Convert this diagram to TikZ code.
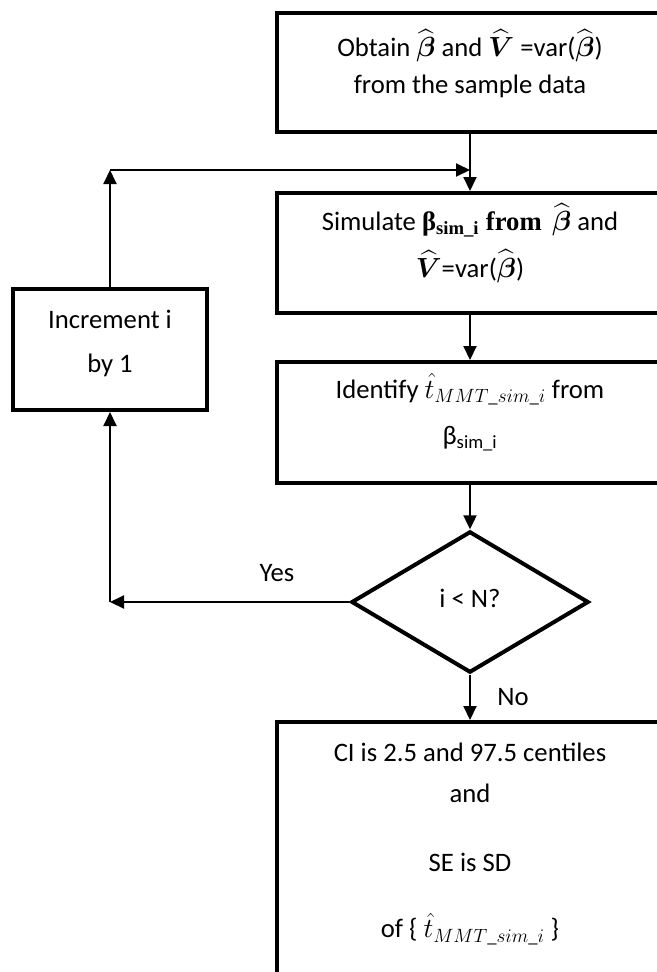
\documentclass[tikz,border=0pt]{standalone}
\usepackage{amsmath}
\usepackage{fontspec}
\setmainfont{Carlito}
\newfontfamily\tnr{Liberation Serif}
\usetikzlibrary{shapes.geometric,arrows.meta}
\begin{document}
\begin{tikzpicture}[x=0.75pt,y=-0.75pt,
  txt/.style={font=\fontsize{20}{24}\selectfont},
  box/.style={draw,line width=3pt,rectangle,minimum width=289.5pt,inner sep=0pt},
  smallbox/.style={draw,line width=3pt,rectangle,minimum width=145.5pt,minimum height=90.75pt,inner sep=0pt},
  decision/.style={draw,line width=3pt,diamond,minimum width=178pt,minimum height=106pt,inner sep=0pt},
  boxtext/.style={txt,align=center,inner sep=0pt},
  conn/.style={line width=1.5pt,-{Triangle[length=10.5pt,width=9.75pt]}},
  lbl/.style={txt,inner sep=0pt}]
\clip (0,0) rectangle (657,972);
\fill[white] (0,0) rectangle (657,972);

\node[box,minimum height=89.25pt] (obtain) at (470,72.5) {};
\node[boxtext] (obtaintxt) at (470,63.5)
  {Obtain $\widehat{\boldsymbol{\beta}}$ and $\widehat{\boldsymbol{V}}$ =var($\widehat{\boldsymbol{\beta}}$)\\[3.75pt]from the sample data};
\node[box,minimum height=90pt] (sim) at (470,253) {};
\node[boxtext] (simtxt) at (470,243)
  {Simulate {\tnr\bfseries β\textsubscript{sim\_i} from} \,$\widehat{\boldsymbol{\beta}}$ and\\[8.25pt]$\widehat{\boldsymbol{V}}$=var($\widehat{\boldsymbol{\beta}}$)};
\node[box,minimum height=90.75pt] (ident) at (470,422.5) {};
\node[boxtext] (identtxt) at (470,412.5)
  {Identify $\hat{t}_{MMT\_sim\_i}$ from\\[11pt]β\textsubscript{sim\_i}};
\node[smallbox] (inc) at (110,349.5) {};
\node[boxtext] (inctxt) at (110,343.5) {Increment i\\[9pt]by 1};
\node[decision] (dec) at (470,602) {};
\node[boxtext] (dectxt) at (470,598) {i < N?};
\node[box,minimum height=216pt] (final) at (470,866) {};
\node[boxtext] (finaltxt) at (470,844)
  {CI is 2.5 and 97.5 centiles\\[6.75pt]and\\[27.75pt]SE is SD\\[25.5pt]of \{ $\hat{t}_{MMT\_sim\_i}$ \}};

\coordinate (loopcorner) at (110,170);
\coordinate (merge) at (470,170);
\coordinate (yescorner) at (110,602);

\draw[conn] (obtain.south) -- (sim.north);
\draw[conn] (inc.north) -- (loopcorner);
\draw[conn] (loopcorner) -- (merge);
\draw[conn] (sim.south) -- (ident.north);
\draw[conn] (ident.south) -- (dec.north);
\draw[conn] (dec.west) -- (yescorner);
\draw[conn] (yescorner) -- (inc.south);
\draw[conn] (dec.south) -- (final.north);

\node[lbl] (yes) at (277,573) {Yes};
\node[lbl] (no) at (513,697) {No};
\end{tikzpicture}
\end{document}
